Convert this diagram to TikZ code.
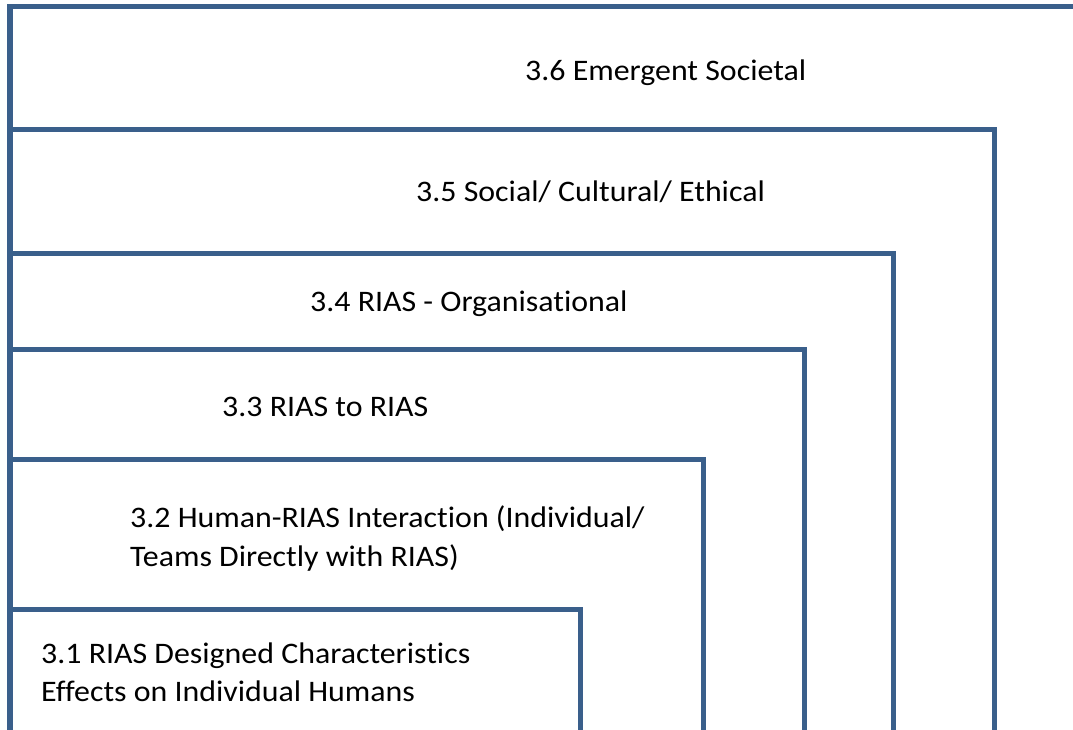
\documentclass[tikz,border=0pt]{standalone}
\usepackage{fontspec}
\setmainfont{Carlito}[Ligatures=NoCommon, FakeStretch=1.07]
\usepackage{xcolor}
\usepackage{tikz}
\definecolor{LayerBlue}{RGB}{58,95,139}

\begin{document}
\begin{tikzpicture}[
    x=1pt, y=-1pt,
    layer/.style={draw=LayerBlue, line width=5.5pt},
    layerlabel/.style={anchor=base west, inner sep=0pt, align=left, font=\fontsize{29.8}{38.5}\selectfont}
  ]
    \clip (0,0) rectangle (1073,729);
    % nested layers, open at the bottom
    \draw[layer] (10,745) -- (10,6.5) -- (1090,6.5);
    \draw[layer] (10,129.5) -- (994.5,129.5) -- (994.5,745);
    \draw[layer] (10,253.5) -- (893.5,253.5) -- (893.5,745);
    \draw[layer] (10,349.5) -- (804.5,349.5) -- (804.5,745);
    \draw[layer] (10,459.5) -- (703.5,459.5) -- (703.5,745);
    \draw[layer] (10,609.5) -- (580.5,609.5) -- (580.5,745);
    % layer titles
    \node[layerlabel] (societal) at (525,80) {3.6 Emergent Societal};
    \node[layerlabel] (social) at (416,201.5) {3.5 Social/ Cultural/ Ethical};
    \node[layerlabel] (org) at (310,311.5) {3.4 RIAS - Organisational};
    \node[layerlabel] (rias) at (222,416.5) {3.3 RIAS to RIAS};
    \node[layerlabel] (interact) at (130,566) {3.2 Human-RIAS Interaction (Individual/\\Teams Directly with RIAS)};
    \node[layerlabel] (design) at (41,701.5) {3.1 RIAS Designed Characteristics\\Effects on Individual Humans};
  \end{tikzpicture}
\end{document}
